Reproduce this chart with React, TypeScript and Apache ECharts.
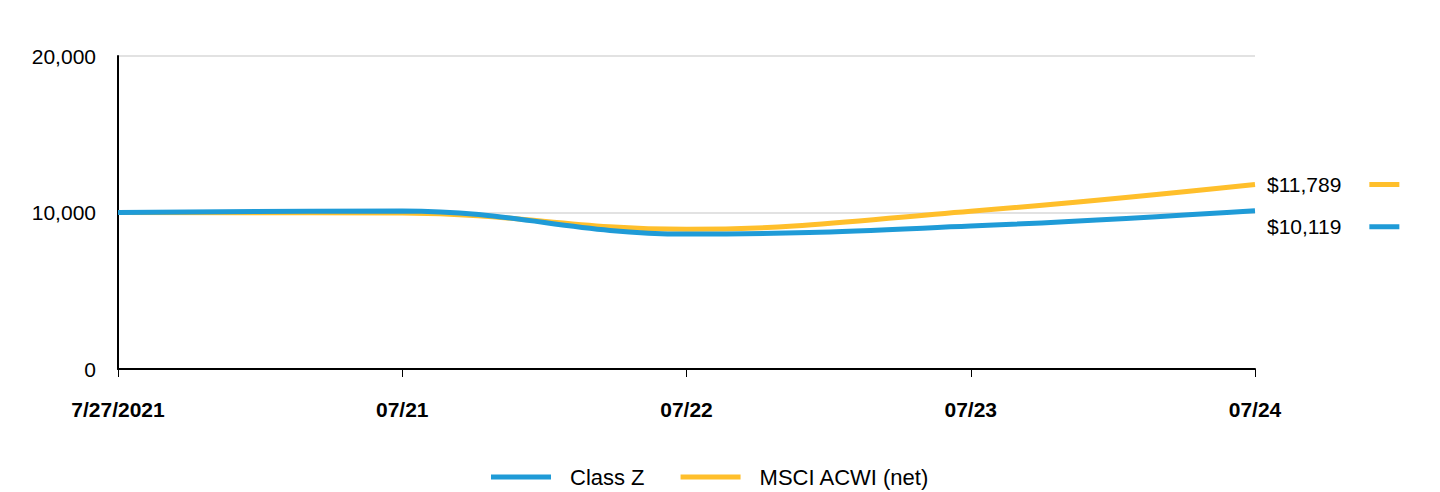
import React, { useEffect, useRef } from "react";
import * as echarts from "echarts";

const categories = ["7/27/2021", "07/21", "07/22", "07/23", "07/24"];
const classZ = [10000, 10100, 8620, 9130, 10119];
const msci = [10000, 9970, 8930, 10080, 11789];
const seriesNames = ["Class Z", "MSCI ACWI (net)"];
const BLUE = "#1f9bd7";
const YELLOW = "#ffbf2b";
const FONT = "Liberation Sans, Arial, sans-serif";

const fmt = (v: number) => "$" + v.toLocaleString("en-US");

export default function App() {
  const ref = useRef<HTMLDivElement>(null);
  useEffect(() => {
    document.body.style.margin = "0";
    if (!ref.current) return;
    const chart = echarts.init(ref.current, undefined, { renderer: "svg" });
    const endLabel = (color: string, dy: number) => ({
      show: true,
      distance: 12,
      offset: [0, dy],
      formatter: (p: any) => `{v|${fmt(p.value)}}{g|}{m|}`,
      rich: {
        v: { fontSize: 21, color: "#000", fontFamily: FONT },
        g: { width: 28, height: 5 },
        m: { width: 30, height: 5, backgroundColor: color },
      },
    });
    chart.setOption({
      animation: false,
      textStyle: { fontFamily: FONT },
      grid: { left: 118, right: 185, top: 56, bottom: 123 },
      legend: {
        data: seriesNames,
        top: 461,
        left: 486,
        icon: "rect",
        itemWidth: 60,
        itemHeight: 5,
        itemGap: 36,
        textStyle: { fontSize: 22, color: "#000", padding: [0, 0, 0, 14] },
      },
      xAxis: {
        type: "category",
        data: categories,
        boundaryGap: false,
        axisLine: { lineStyle: { color: "#000", width: 2 } },
        axisTick: { show: true, length: 8, lineStyle: { color: "#000", width: 1 } },
        axisLabel: { fontSize: 21, fontWeight: "bold", color: "#000", margin: 30 },
      },
      yAxis: {
        type: "value",
        min: 0,
        max: 20000,
        interval: 10000,
        axisLine: { show: true, lineStyle: { color: "#000", width: 2 } },
        axisTick: { show: false },
        splitLine: { lineStyle: { color: "#e2e2e2", width: 2 } },
        axisLabel: {
          fontSize: 21,
          color: "#000",
          margin: 22,
          formatter: (v: number) => v.toLocaleString("en-US"),
        },
      },
      series: [
        {
          name: seriesNames[1],
          type: "line",
          data: msci,
          smooth: 0.4,
          symbol: "none",
          z: 2,
          lineStyle: { color: YELLOW, width: 5 },
          itemStyle: { color: YELLOW },
          endLabel: endLabel(YELLOW, 0),
        },
        {
          name: seriesNames[0],
          type: "line",
          data: classZ,
          smooth: 0.4,
          symbol: "none",
          z: 3,
          lineStyle: { color: BLUE, width: 5 },
          itemStyle: { color: BLUE },
          endLabel: endLabel(BLUE, 16),
        },
      ],
    });
    return () => chart.dispose();
  }, []);
  return <div ref={ref} style={{ width: 1440, height: 492 }} />;
}
